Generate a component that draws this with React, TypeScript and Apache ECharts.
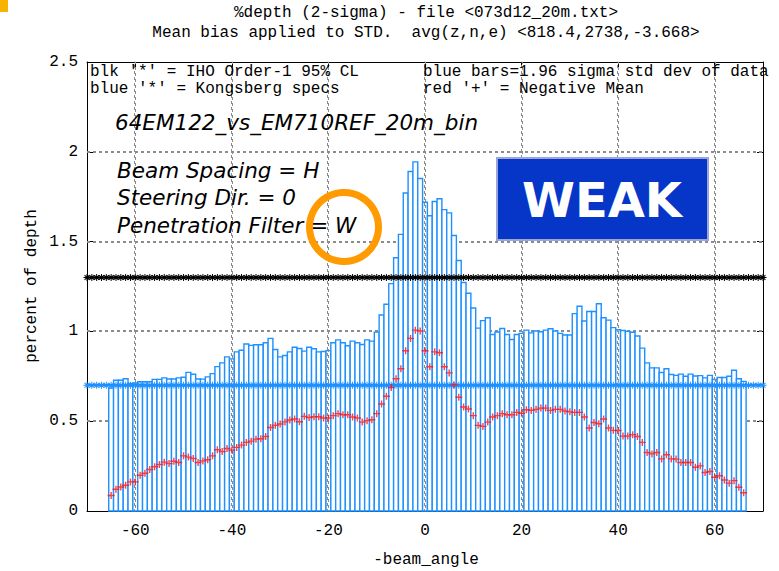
import React, { useEffect, useRef } from 'react';
import * as echarts from 'echarts';

const TITLE_1 = '%depth (2-sigma) - file <073d12_20m.txt>';
const TITLE_2 = 'Mean bias applied to STD.  avg(z,n,e) <818.4,2738,-3.668>';
const X_NAME = '-beam_angle';
const Y_NAME = 'percent of depth';
const X_TICKS = [-60, -40, -20, 0, 20, 40, 60];
const Y_GRID = [0.5, 1, 1.5, 2];

const ANGLES = [
  -65, -64, -63, -62, -61, -60, -59, -58, -57, -56, -55, -54, -53, -52, -51, -50, -49, -48, -47, -46,
  -45, -44, -43, -42, -41, -40, -39, -38, -37, -36, -35, -34, -33, -32, -31, -30, -29, -28, -27, -26,
  -25, -24, -23, -22, -21, -20, -19, -18, -17, -16, -15, -14, -13, -12, -11, -10, -9, -8, -7, -6,
  -5, -4, -3, -2, -1, 0, 1, 2, 3, 4, 5, 6, 7, 8, 9, 10, 11, 12, 13, 14,
  15, 16, 17, 18, 19, 20, 21, 22, 23, 24, 25, 26, 27, 28, 29, 30, 31, 32, 33, 34,
  35, 36, 37, 38, 39, 40, 41, 42, 43, 44, 45, 46, 47, 48, 49, 50, 51, 52, 53, 54,
  55, 56, 57, 58, 59, 60, 61, 62, 63, 64, 65, 66,
];

// blue bars: 1.96 sigma std dev of data (% of depth)
const STD_2SIGMA = [
  0.685, 0.728, 0.728, 0.736, 0.71, 0.713, 0.72, 0.72, 0.72, 0.733, 0.733, 0.741, 0.735, 0.735, 0.741, 0.745, 0.772, 0.761, 0.735, 0.734,
  0.747, 0.765, 0.804, 0.825, 0.858, 0.847, 0.886, 0.895, 0.93, 0.922, 0.926, 0.926, 0.937, 0.961, 0.899, 0.858, 0.866, 0.886, 0.912, 0.905,
  0.89, 0.912, 0.903, 0.886, 0.888, 0.893, 0.937, 0.953, 0.937, 0.92, 0.946, 0.937, 0.927, 0.953, 0.946, 0.996, 1.091, 1.151, 1.266, 1.41,
  1.54, 1.771, 1.89, 1.944, 1.851, 1.719, 1.644, 1.723, 1.739, 1.678, 1.66, 1.534, 1.395, 1.272, 1.212, 1.13, 1.018, 1.06, 1.076, 0.983,
  0.997, 1.016, 0.983, 0.955, 0.983, 0.989, 1.007, 0.992, 1.002, 0.998, 1.007, 1.015, 1.002, 0.989, 0.98, 0.98, 1.099, 1.14, 1.058, 1.111,
  1.111, 1.154, 1.076, 1.063, 1.021, 1.009, 1.005, 1.0, 0.995, 0.974, 0.907, 0.825, 0.797, 0.797, 0.771, 0.792, 0.76, 0.755, 0.762, 0.75,
  0.762, 0.752, 0.754, 0.741, 0.755, 0.732, 0.743, 0.743, 0.75, 0.784, 0.736, 0.722,
];

// red '+': negative mean (% of depth)
const NEG_MEAN = [
  0.086, 0.121, 0.134, 0.143, 0.162, 0.162, 0.199, 0.21, 0.231, 0.246, 0.259, 0.272, 0.264, 0.277, 0.27, 0.307, 0.3, 0.292, 0.27, 0.279,
  0.285, 0.307, 0.341, 0.331, 0.348, 0.339, 0.354, 0.367, 0.382, 0.389, 0.4, 0.402, 0.415, 0.465, 0.477, 0.484, 0.496, 0.507, 0.512, 0.497,
  0.527, 0.52, 0.525, 0.525, 0.518, 0.518, 0.531, 0.542, 0.536, 0.536, 0.523, 0.518, 0.495, 0.503, 0.508, 0.542, 0.596, 0.639, 0.687, 0.736,
  0.792, 0.892, 0.961, 1.007, 1.002, 0.892, 0.803, 0.886, 0.881, 0.803, 0.769, 0.702, 0.633, 0.579, 0.568, 0.531, 0.477, 0.471, 0.495, 0.523,
  0.531, 0.542, 0.536, 0.536, 0.549, 0.544, 0.564, 0.56, 0.566, 0.573, 0.573, 0.56, 0.566, 0.566, 0.557, 0.552, 0.549, 0.549, 0.523, 0.462,
  0.493, 0.486, 0.512, 0.462, 0.449, 0.448, 0.417, 0.417, 0.425, 0.415, 0.382, 0.326, 0.318, 0.326, 0.29, 0.313, 0.29, 0.289, 0.27, 0.27,
  0.27, 0.244, 0.251, 0.214, 0.22, 0.188, 0.196, 0.173, 0.155, 0.169, 0.132, 0.102,
];

const IHO_ORDER1 = 1.3; // blk '*'
const KONGSBERG_SPEC = 0.7; // blue '*'
const SPEC_FROM = -70;
const SPEC_TO = 70;
const X_MIN = -70;
const X_MAX = 70;
const Y_MIN = 0;
const Y_MAX = 2.5;

const MONO = '"Liberation Mono", "DejaVu Sans Mono", monospace';
const SANS = '"DejaVu Sans", "Noto Sans", sans-serif';
const BLUE = '#1e90ff';
const GRID_COLOR = '#8c8c8c';

const ASTERISK =
  'path://M0,4.3L10,4.3L10,5.7L0,5.7Z M4.3,0L5.7,0L5.7,10L4.3,10Z M1,2L2,1L9,8L8,9Z M8,1L9,2L2,9L1,8Z';
const PLUS = 'path://M4,0L6,0L6,4L10,4L10,6L6,6L6,10L4,10L4,6L0,6L0,4L4,4Z';

export default function App() {
  const ref = useRef<HTMLDivElement>(null);

  useEffect(() => {
    if (!ref.current) return;
    const chart = echarts.init(ref.current, undefined, { renderer: 'svg' });

    const specAngles: number[] = [];
    for (let a = SPEC_FROM; a <= SPEC_TO; a++) specAngles.push(a);

    const txt = (text: string, x: number, y: number, extra: any = {}, z = 100) => ({
      type: 'text',
      x,
      y,
      z,
      style: {
        text,
        fontFamily: MONO,
        fontSize: 16,
        fill: '#000',
        verticalAlign: 'middle',
        ...extra,
      },
    });
    const ital = { fontFamily: SANS, fontStyle: 'italic', fontSize: 21.5 };

    const option: any = {
      animation: false,
      backgroundColor: '#fff',
      grid: { left: 87, right: 16, top: 62, bottom: 60 },
      xAxis: [
        {
          type: 'value',
          min: X_MIN,
          max: X_MAX,
          position: 'bottom',
          axisLine: { show: true, onZero: false, lineStyle: { color: '#000', width: 1 } },
          axisTick: { show: true, inside: true, length: 6, customValues: X_TICKS, lineStyle: { color: '#000' } },
          axisLabel: { customValues: X_TICKS, margin: 12, fontFamily: MONO, fontSize: 16, color: '#000' },
          splitLine: { show: false },
        },
        {
          type: 'value',
          min: X_MIN,
          max: X_MAX,
          position: 'top',
          axisLine: { show: true, onZero: false, lineStyle: { color: '#000', width: 1 } },
          axisTick: { show: true, inside: true, length: 6, customValues: X_TICKS, lineStyle: { color: '#000' } },
          axisLabel: { show: false },
          splitLine: { show: false },
        },
      ],
      yAxis: [
        {
          type: 'value',
          min: Y_MIN,
          max: Y_MAX,
          interval: 0.5,
          position: 'left',
          axisLine: { show: true, onZero: false, lineStyle: { color: '#000', width: 1 } },
          axisTick: { show: true, inside: true, length: 6, lineStyle: { color: '#000' } },
          axisLabel: { margin: 9, fontFamily: MONO, fontSize: 16, color: '#000' },
          splitLine: { show: false },
        },
        {
          type: 'value',
          min: Y_MIN,
          max: Y_MAX,
          interval: 0.5,
          position: 'right',
          axisLine: { show: true, onZero: false, lineStyle: { color: '#000', width: 1 } },
          axisTick: { show: true, inside: true, length: 6, lineStyle: { color: '#000' } },
          axisLabel: { show: false },
          splitLine: { show: false },
        },
      ],
      series: [
        {
          type: 'custom',
          name: 'hgrid',
          z: 1,
          silent: true,
          data: Y_GRID.map((v) => [X_MAX, v]),
          renderItem: (params: any, api: any) => {
            const v = api.value(1);
            const right = api.coord([api.value(0), v]);
            const left = api.coord([X_MIN, v]);
            return {
              type: 'rect',
              shape: { x: left[0], y: Math.round(left[1]) - 0.5, width: right[0] - left[0], height: 1 },
              style: { fill: 'none', stroke: GRID_COLOR, lineWidth: 1, lineDash: [3, 3] },
            };
          },
        },
        {
          type: 'custom',
          name: 'std',
          z: 2,
          data: ANGLES.map((a, i) => [a, STD_2SIGMA[i]]),
          renderItem: (params: any, api: any) => {
            const x = api.value(0);
            const v = api.value(1);
            const p1 = api.coord([x - 0.5, v]);
            const p2 = api.coord([x + 0.5, 0]);
            return {
              type: 'rect',
              shape: { x: p1[0], y: p1[1], width: p2[0] - p1[0], height: p2[1] - p1[1] },
              style: { fill: '#fff', stroke: BLUE, lineWidth: 1.4 },
            };
          },
        },
        {
          type: 'custom',
          name: 'vgrid',
          z: 3,
          silent: true,
          data: X_TICKS.map((v) => [v, Y_MAX]),
          renderItem: (params: any, api: any) => {
            const v = api.value(0);
            const top = api.coord([v, api.value(1)]);
            const bottom = api.coord([v, Y_MIN]);
            return {
              type: 'rect',
              shape: { x: Math.round(top[0]) - 0.5, y: top[1], width: 1, height: bottom[1] - top[1] },
              style: { fill: 'none', stroke: GRID_COLOR, lineWidth: 1, lineDash: [3, 3] },
            };
          },
        },
        {
          type: 'line',
          name: 'Kongsberg',
          z: 4,
          data: specAngles.map((a) => [a, KONGSBERG_SPEC]),
          showAllSymbol: true,
          symbol: ASTERISK,
          symbolSize: 7,
          itemStyle: { color: BLUE },
          lineStyle: { color: BLUE, width: 2.5 },
          clip: false,
        },
        {
          type: 'line',
          name: 'IHO',
          z: 5,
          data: specAngles.map((a) => [a, IHO_ORDER1]),
          showAllSymbol: true,
          symbol: ASTERISK,
          symbolSize: 7,
          itemStyle: { color: '#000' },
          lineStyle: { color: '#000', width: 2.5 },
          clip: false,
        },
        {
          type: 'scatter',
          name: 'mean',
          z: 6,
          data: ANGLES.map((a, i) => [a, NEG_MEAN[i]]),
          symbol: PLUS,
          symbolSize: 7,
          itemStyle: { color: '#ff1010' },
        },
      ],
      graphic: [
        { type: 'rect', shape: { x: 0, y: 0, width: 8, height: 12 }, style: { fill: '#f6b400' } },
        txt(TITLE_1, 426, 13, { align: 'center' }),
        txt(TITLE_2, 426, 33, { align: 'center' }),
        txt("blk '*' = IHO Order-1 95% CL", 90, 72),
        txt("blue '*' = Kongsberg specs", 90, 89),
        txt('blue bars=1.96 sigma std dev of data', 423, 72),
        txt("red '+' = Negative Mean", 423, 89),
        txt(X_NAME, 426, 560, { align: 'center' }),
        {
          type: 'text',
          x: 32,
          y: 286,
          rotation: Math.PI / 2,
          z: 100,
          style: { text: Y_NAME, fontFamily: MONO, fontSize: 16, fill: '#000', align: 'center', verticalAlign: 'middle' },
        },
        txt('64EM122_vs_EM710REF_20m_bin', 115, 122, ital),
        txt('Beam Spacing = H', 117, 170, ital),
        txt('Steering Dir. = 0', 117, 197, ital),
        txt('Penetration Filter = W', 117, 225, ital),
        {
          type: 'circle',
          z: 101,
          shape: { cx: 344, cy: 227, r: 34.5 },
          style: { fill: 'none', stroke: '#ff9a00', lineWidth: 7 },
        },
        {
          type: 'rect',
          z: 101,
          shape: { x: 497, y: 158, width: 211, height: 82 },
          style: { fill: '#0536c8', stroke: '#9aa6d8', lineWidth: 2 },
        },
        txt(
          'WEAK',
          602,
          200,
          { align: 'center', fontFamily: SANS, fontWeight: 'bold', fontSize: 48, fill: '#fff' },
          110
        ),
      ],
    };

    chart.setOption(option);
    return () => chart.dispose();
  }, []);

  return (
    <div
      ref={ref}
      style={{ position: 'fixed', left: 0, top: 0, width: 779, height: 571, background: '#fff' }}
    />
  );
}
